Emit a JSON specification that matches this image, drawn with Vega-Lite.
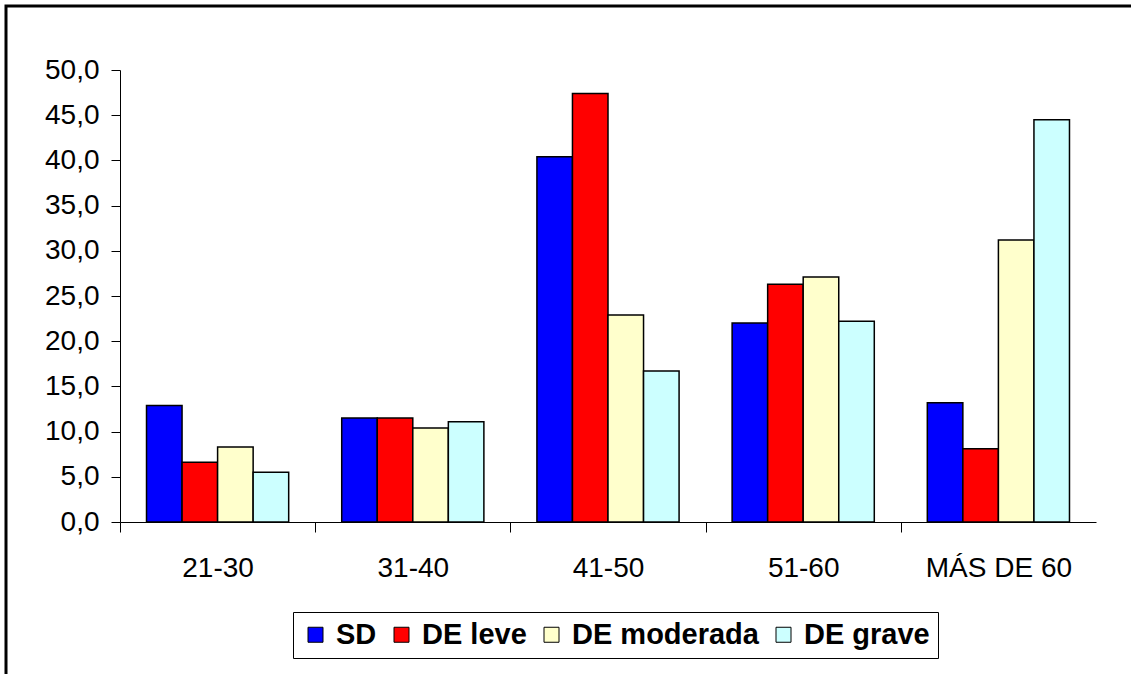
{
  "$schema": "https://vega.github.io/schema/vega-lite/v6.json",
  "autosize": {"type": "none"},
  "padding": {"left": 6, "top": 6, "right": -4, "bottom": -4},
  "width": 1129,
  "height": 672,
  "background": "white",
  "config": {
    "view": {"stroke": "black", "strokeWidth": 3, "fill": "white"},
    "font": "Liberation Sans"
  },
  "data": {
    "values": [
      {"edad": "21-30", "grupo": "SD", "valor": 12.9},
      {"edad": "21-30", "grupo": "DE leve", "valor": 6.6},
      {"edad": "21-30", "grupo": "DE moderada", "valor": 8.3},
      {"edad": "21-30", "grupo": "DE grave", "valor": 5.5},
      {"edad": "31-40", "grupo": "SD", "valor": 11.5},
      {"edad": "31-40", "grupo": "DE leve", "valor": 11.5},
      {"edad": "31-40", "grupo": "DE moderada", "valor": 10.4},
      {"edad": "31-40", "grupo": "DE grave", "valor": 11.1},
      {"edad": "41-50", "grupo": "SD", "valor": 40.4},
      {"edad": "41-50", "grupo": "DE leve", "valor": 47.4},
      {"edad": "41-50", "grupo": "DE moderada", "valor": 22.9},
      {"edad": "41-50", "grupo": "DE grave", "valor": 16.7},
      {"edad": "51-60", "grupo": "SD", "valor": 22.0},
      {"edad": "51-60", "grupo": "DE leve", "valor": 26.3},
      {"edad": "51-60", "grupo": "DE moderada", "valor": 27.1},
      {"edad": "51-60", "grupo": "DE grave", "valor": 22.2},
      {"edad": "MÁS DE 60", "grupo": "SD", "valor": 13.2},
      {"edad": "MÁS DE 60", "grupo": "DE leve", "valor": 8.1},
      {"edad": "MÁS DE 60", "grupo": "DE moderada", "valor": 31.2},
      {"edad": "MÁS DE 60", "grupo": "DE grave", "valor": 44.5}
    ]
  },
  "mark": {"type": "bar", "stroke": "black", "strokeWidth": 1.5},
  "encoding": {
    "x": {
      "field": "edad",
      "type": "nominal",
      "sort": ["21-30", "31-40", "41-50", "51-60", "MÁS DE 60"],
      "scale": {"range": [114, 1090], "paddingInner": 0, "paddingOuter": 0},
      "axis": {
        "title": null,
        "orient": "bottom",
        "offset": -156,
        "labelAngle": 0,
        "labelFont": "Liberation Sans",
        "labelFontSize": 28,
        "labelColor": "black",
        "labelPadding": 22,
        "labelLimit": 400,
        "domainColor": "black",
        "domainWidth": 1,
        "tickColor": "black",
        "tickWidth": 1,
        "tickSize": 10,
        "tickOffset": -97.6,
        "labelOffset": 97.6,
        "grid": false
      }
    },
    "xOffset": {
      "field": "grupo",
      "type": "nominal",
      "sort": ["SD", "DE leve", "DE moderada", "DE grave"],
      "scale": {"paddingInner": 0, "paddingOuter": 0.746}
    },
    "y": {
      "field": "valor",
      "type": "quantitative",
      "scale": {"domain": [0, 50], "range": [516, 64], "nice": false, "zero": true},
      "axis": {
        "title": null,
        "orient": "left",
        "offset": -114,
        "values": [0, 5, 10, 15, 20, 25, 30, 35, 40, 45, 50],
        "labelExpr": "replace(format(datum.value, '.1f'), '.', ',')",
        "labelFont": "Liberation Sans",
        "labelFontSize": 28,
        "labelColor": "black",
        "labelPadding": 12,
        "domainColor": "black",
        "domainWidth": 1,
        "tickColor": "black",
        "tickWidth": 1,
        "tickSize": 9,
        "grid": false
      }
    },
    "color": {
      "field": "grupo",
      "type": "nominal",
      "sort": ["SD", "DE leve", "DE moderada", "DE grave"],
      "scale": {
        "domain": ["SD", "DE leve", "DE moderada", "DE grave"],
        "range": ["#0000FF", "#FF0000", "#FFFFCC", "#CCFFFF"]
      },
      "legend": {
        "orient": "none",
        "legendX": 287,
        "legendY": 606,
        "direction": "horizontal",
        "title": null,
        "strokeColor": "black",
        "fillColor": "white",
        "padding": 8,
        "symbolType": "square",
        "symbolSize": 225,
        "symbolStrokeColor": "black",
        "symbolStrokeWidth": 1,
        "symbolOpacity": 1,
        "labelFont": "Liberation Sans",
        "labelFontWeight": "bold",
        "labelFontSize": 29,
        "labelColor": "black",
        "labelLimit": 300,
        "columnPadding": 10,
        "labelOffset": 6
      }
    }
  }
}
